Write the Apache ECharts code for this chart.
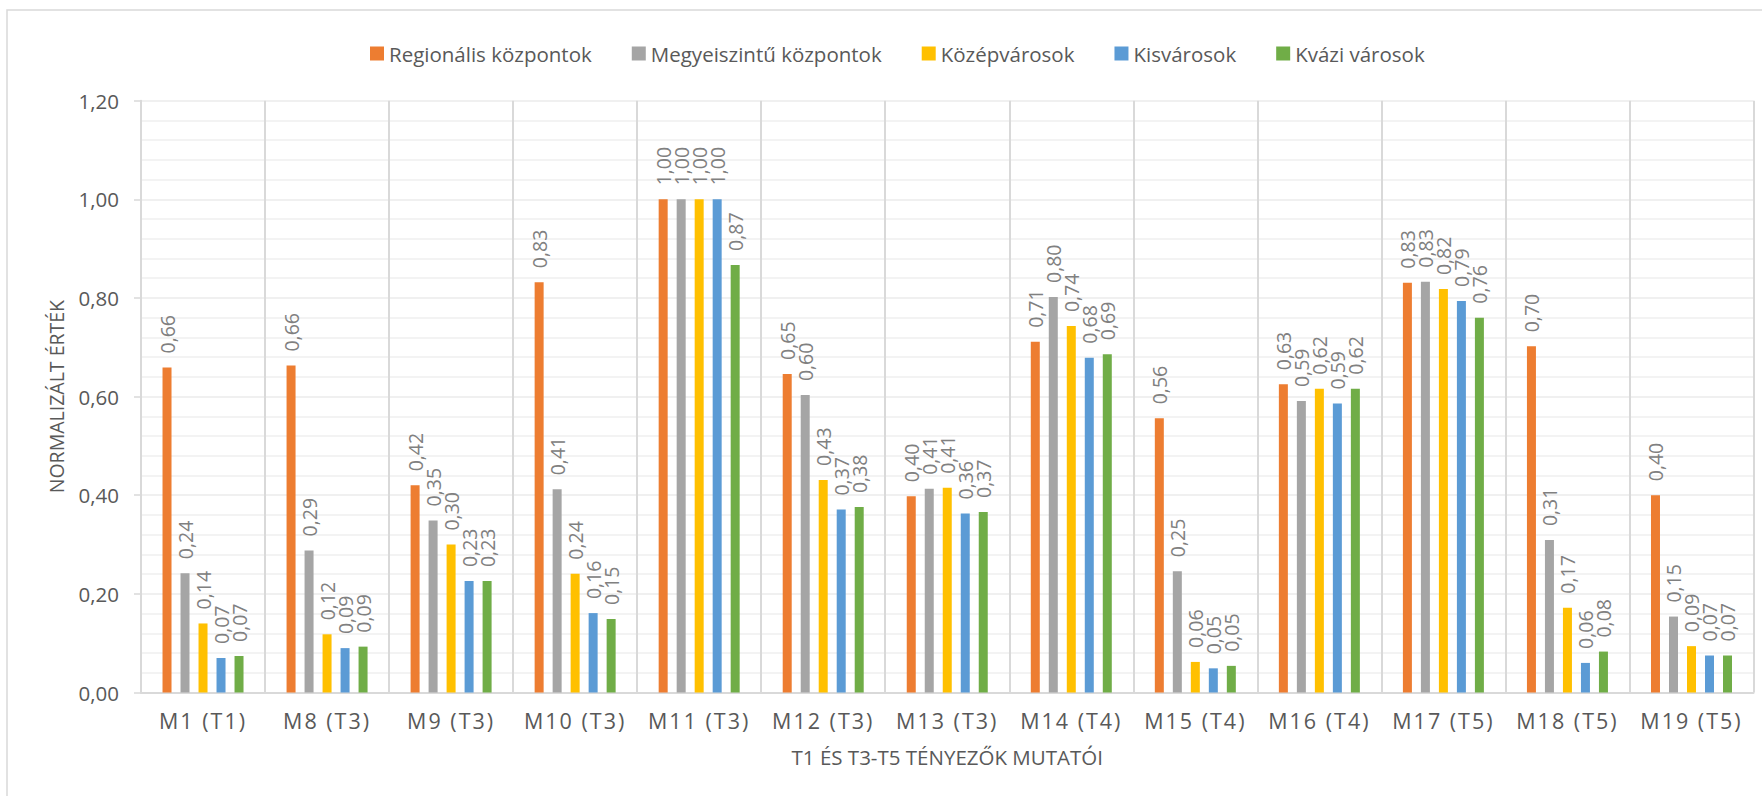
<!DOCTYPE html>
<html><head><meta charset="utf-8">
<script src="https://cdn.jsdelivr.net/npm/echarts@6/dist/echarts.min.js"></script>
<style>
html,body{margin:0;padding:0;background:#fff;}
#chart{width:1762px;height:796px;}
#chart text[style*="Lato"]{letter-spacing:2px;}
</style></head><body><div id="chart"></div>
<script>
const categories = ['M1 (T1)','M8 (T3)','M9 (T3)','M10 (T3)','M11 (T3)','M12 (T3)','M13 (T3)','M14 (T4)','M15 (T4)','M16 (T4)','M17 (T5)','M18 (T5)','M19 (T5)'];
const seriesNames = ['Regionális központok','Megyeiszintű központok','Középvárosok','Kisvárosok','Kvázi városok'];
const regionalis   = [0.659,0.663,0.420,0.832,1.000,0.646,0.398,0.711,0.556,0.625,0.831,0.702,0.400];
const megyeiszintu = [0.242,0.288,0.349,0.412,1.000,0.603,0.413,0.802,0.246,0.591,0.833,0.309,0.154];
const kozepvarosok = [0.140,0.118,0.300,0.241,1.000,0.431,0.415,0.743,0.062,0.616,0.818,0.172,0.094];
const kisvarosok   = [0.070,0.090,0.226,0.161,1.000,0.371,0.363,0.679,0.049,0.586,0.794,0.060,0.075];
const kvazivarosok = [0.074,0.093,0.226,0.149,0.867,0.376,0.366,0.686,0.054,0.616,0.760,0.083,0.075];
const colors = ['#ED7D31','#A5A5A5','#FFC000','#5B9BD5','#70AD47'];
const yTicks = [0, 0.2, 0.4, 0.6, 0.8, 1.0, 1.2];

const allValues = [regionalis, megyeiszintu, kozepvarosok, kisvarosok, kvazivarosok];
const fmt = v => v.toFixed(2).replace('.', ',');
const FONT = 'Open Sans';
const TXT = '#595959';

const chart = echarts.init(document.getElementById('chart'), null, {renderer: 'svg'});
chart.setOption({
  animation: false,
  backgroundColor: '#ffffff',
  color: colors,
  graphic: [{
    type: 'rect', silent: true, z: -10,
    shape: {x: 7, y: 10, width: 1800, height: 900},
    style: {fill: 'none', stroke: '#D9D9D9', lineWidth: 1.5}
  }],
  legend: {
    left: 365, top: 38,
    itemWidth: 14, itemHeight: 14, itemGap: 40,
    icon: 'rect',
    textStyle: {fontFamily: FONT, fontSize: 20.5, color: TXT},
    data: seriesNames
  },
  grid: {left: 141, right: 8.5, top: 100.7, bottom: 103.5, containLabel: false},
  xAxis: {
    type: 'category',
    data: categories,
    name: 'T1 ÉS T3-T5 TÉNYEZŐK MUTATÓI',
    nameLocation: 'middle',
    nameGap: 54,
    nameTextStyle: {fontFamily: FONT, fontSize: 20.5, color: TXT},
    axisLine: {lineStyle: {color: '#D9D9D9', width: 2}},
    axisTick: {show: false},
    axisLabel: {interval: 0, margin: 17, fontFamily: FONT + ', Lato', fontSize: 21.5, color: TXT},
    splitLine: {show: true, lineStyle: {color: '#D9D9D9', width: 2}}
  },
  yAxis: {
    type: 'value',
    min: yTicks[0], max: yTicks[yTicks.length - 1], interval: 0.2,
    name: 'NORMALIZÁLT ÉRTÉK',
    nameLocation: 'middle',
    nameGap: 75,
    nameTextStyle: {fontFamily: FONT, fontSize: 19.5, color: TXT},
    axisLine: {show: true, lineStyle: {color: '#D9D9D9', width: 2}},
    axisTick: {show: true, length: 7, lineStyle: {color: '#D9D9D9', width: 1.5}},
    axisLabel: {margin: 22, fontFamily: FONT, fontSize: 20.5, color: TXT, formatter: v => fmt(v)},
    splitLine: {show: true, lineStyle: {color: '#EBEBEB', width: 1.5}},
    minorTick: {show: false, splitNumber: 5},
    minorSplitLine: {show: true, lineStyle: {color: '#EFEFEF', width: 1.5}}
  },
  series: seriesNames.map((name, i) => ({
    name: name,
    type: 'bar',
    data: allValues[i],
    barWidth: 9,
    barGap: '100%',
    itemStyle: {color: colors[i]},
    label: {
      show: true,
      position: 'top',
      rotate: 90,
      align: 'left',
      verticalAlign: 'middle',
      distance: 14,
      fontFamily: FONT,
      fontSize: 19.5,
      color: '#808080',
      formatter: p => fmt(p.value)
    }
  }))
});
</script></body></html>
